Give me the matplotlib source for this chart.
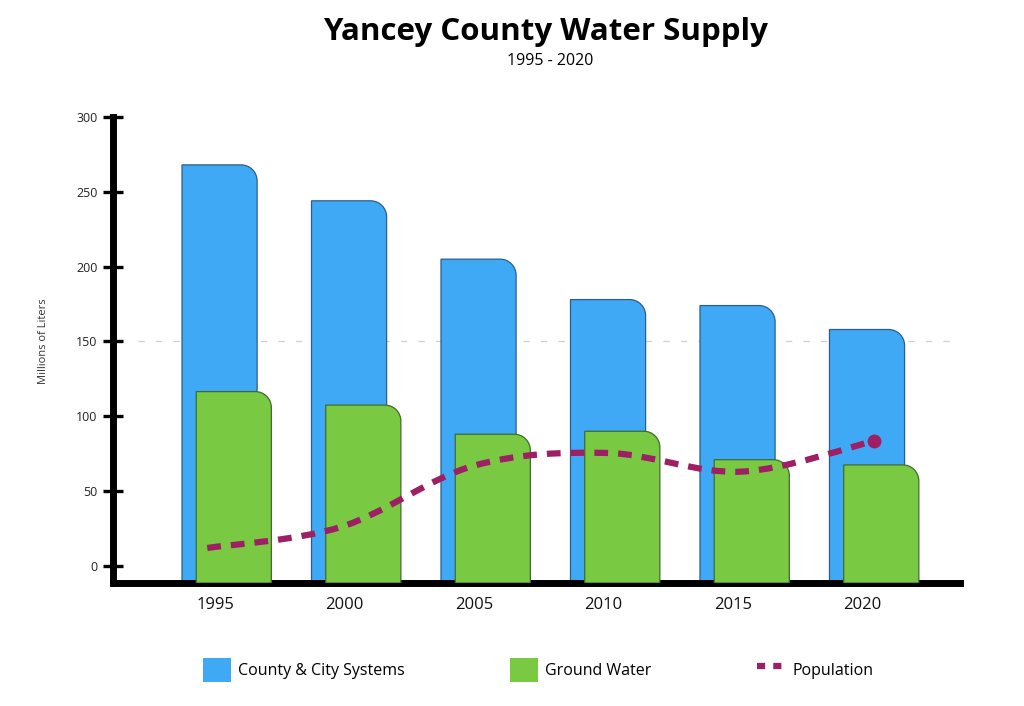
import numpy as np
import matplotlib
matplotlib.use('Agg')
import matplotlib.pyplot as plt
from matplotlib.path import Path
from matplotlib.patches import PathPatch, Patch
from matplotlib.lines import Line2D

# ---- data ----
years = ['1995', '2000', '2005', '2010', '2015', '2020']
county_city = [268, 244, 205, 178, 174, 158]
ground_water = [116.5, 107.5, 88, 90, 71, 67.5]
population = [12, 26, 67, 75.5, 63, 83.5]

# ---- style ----
blue = '#3FA9F5'
blue_edge = '#2A5F8C'
green = '#7AC943'
green_edge = '#3F6B2C'
pop_color = '#9E1F63'
plt.rcParams['font.family'] = ['Open Sans', 'DejaVu Sans']

fig = plt.figure(figsize=(10.24, 7.06), dpi=100)
ax = fig.add_axes([113 / 1024, 123 / 706, 847 / 1024, 466 / 706])
ax.set_xlim(-0.788, 5.753)
ax.set_ylim(-11.4, 300)

x = np.arange(len(years))
bottom = ax.get_ylim()[0]


def rounded_bars(bars, face, edge, radius_px=16):
    # replace plain rectangles with ones whose top-right corner is rounded
    fig.canvas.draw()
    inv = ax.transData.inverted()
    p0 = inv.transform((0, 0))
    p1 = inv.transform((radius_px, radius_px))
    rx, ry = p1 - p0
    k = 0.5523
    for rect in bars:
        x0, y0 = rect.get_x(), rect.get_y()
        x1, y1 = x0 + rect.get_width(), y0 + rect.get_height()
        verts = [(x0, y0), (x1, y0), (x1, y1 - ry),
                 (x1, y1 - ry * (1 - k)), (x1 - rx * (1 - k), y1), (x1 - rx, y1),
                 (x0, y1), (x0, y0)]
        codes = [Path.MOVETO, Path.LINETO, Path.LINETO,
                 Path.CURVE4, Path.CURVE4, Path.CURVE4,
                 Path.LINETO, Path.CLOSEPOLY]
        ax.add_patch(PathPatch(Path(verts, codes), facecolor=face, edgecolor=edge,
                               lw=0.9, zorder=rect.get_zorder()))
        rect.set_visible(False)


b1 = ax.bar(x + 0.035, np.array(county_city) - bottom, bottom=bottom, width=0.58, zorder=2)
b2 = ax.bar(x + 0.145, np.array(ground_water) - bottom, bottom=bottom, width=0.58, zorder=3)
rounded_bars(b1, blue, blue_edge)
rounded_bars(b2, green, green_edge)

# dashed reference line at 150
ax.axhline(150, xmin=0.03, xmax=1, color='#cfcfcf', lw=0.9, ls=(0, (5, 9)), zorder=1)

# population: smooth dashed curve (Catmull-Rom -> bezier)
lx = x * 1.03 - 0.06
ly = np.array(population, dtype=float)
pts = np.column_stack([lx, ly])
verts = [tuple(pts[0])]
codes = [Path.MOVETO]
for i in range(len(pts) - 1):
    p_prev = pts[i - 1] if i > 0 else pts[i]
    p_next = pts[i + 2] if i + 2 < len(pts) else pts[i + 1]
    c1 = pts[i] + (pts[i + 1] - p_prev) / 6
    c2 = pts[i + 1] - (p_next - pts[i]) / 6
    verts += [tuple(c1), tuple(c2), tuple(pts[i + 1])]
    codes += [Path.CURVE4] * 3
ax.add_patch(PathPatch(Path(verts, codes), fill=False, edgecolor=pop_color, lw=4.5,
                       ls=(0, (2.2, 1.6)), capstyle='butt', zorder=5))
ax.plot(lx[-1:], ly[-1:], 'o', color=pop_color, ms=9, zorder=6)

# axes
for s in ['top', 'right']:
    ax.spines[s].set_visible(False)
ax.spines['left'].set_linewidth(5)
ax.spines['bottom'].set_linewidth(5)
ax.spines['left'].set_bounds(-11.4, 300)
ax.set_yticks([0, 50, 100, 150, 200, 250, 300])
ax.tick_params(axis='y', direction='inout', length=14.5, width=2.4, pad=4,
               labelsize=9, labelcolor='#222222')
ax.set_xticks(x)
ax.set_xticklabels(years)
ax.tick_params(axis='x', length=0, pad=10, labelsize=12, labelcolor='#111111')

fig.text(44 / 1024, 1 - 341 / 706, 'Millions of Liters', rotation=90, fontsize=8,
         ha='center', va='center', color='#333333')

fig.text(545 / 1024, 1 - 32 / 706, 'Yancey County Water Supply', fontsize=22.5,
         fontweight='bold', ha='center', va='center')
fig.text(550 / 1024, 1 - 61 / 706, '1995 - 2020', fontsize=11.5, ha='center', va='center')

handles = [Patch(facecolor=blue, edgecolor='none'),
           Patch(facecolor=green, edgecolor='none'),
           Line2D([0], [0], color=pop_color, lw=4.5, ls=(0, (1.3, 1.3)))]
fig.legend(handles, ['County & City Systems', 'Ground Water', 'Population'],
           loc='center', bbox_to_anchor=(538 / 1024, 1 - 670 / 706), ncol=3,
           frameon=False, fontsize=11.5, handlelength=1.75, handleheight=2.0,
           handletextpad=0.45, columnspacing=6.6)

fig.savefig('out.png', dpi=100)
